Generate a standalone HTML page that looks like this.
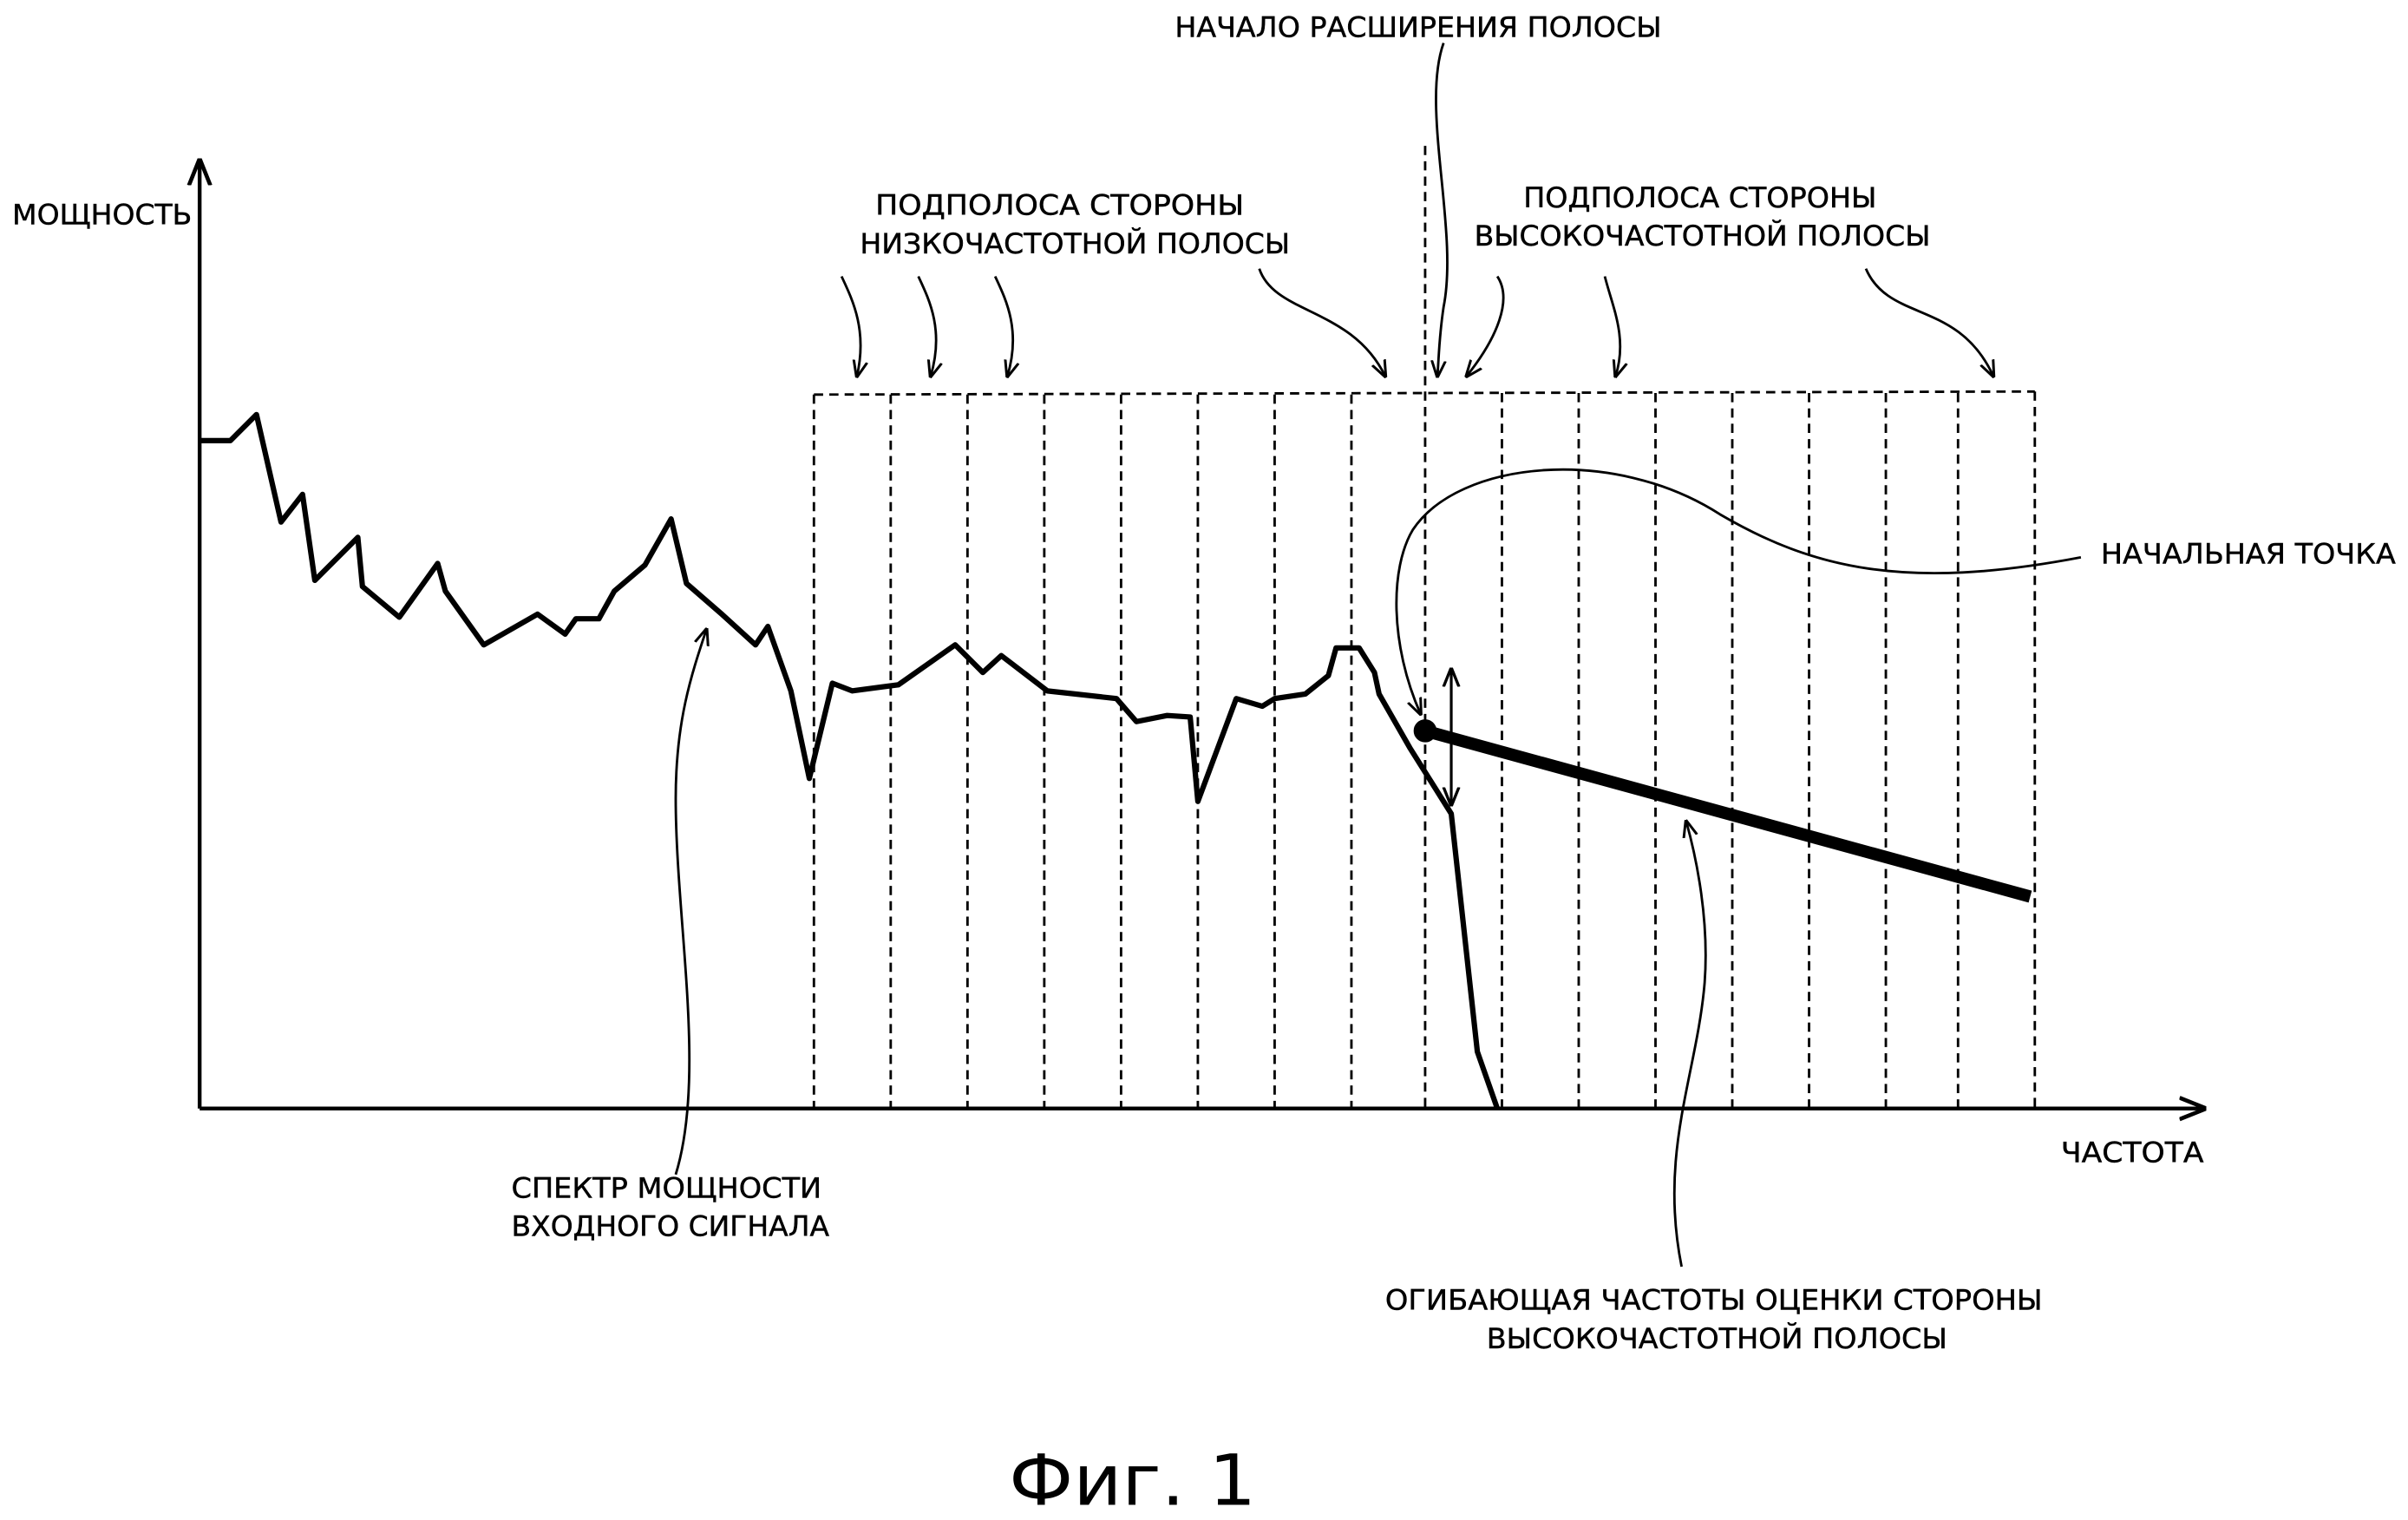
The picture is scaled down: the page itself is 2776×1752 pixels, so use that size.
<!DOCTYPE html>
<html><head><meta charset="utf-8"><style>
html,body{margin:0;padding:0;background:#fff;}
svg{display:block;}
text{font-family:"DejaVu Sans","Liberation Sans",sans-serif;font-size:18px;fill:#000;stroke:#000;stroke-width:0.25;}
</style></head><body>
<svg width="2776" height="1752" viewBox="0 0 1568 990" preserveAspectRatio="none" xmlns="http://www.w3.org/2000/svg">
<defs>
<marker id="ah" viewBox="0 0 10 10" refX="9" refY="5" markerWidth="7" markerHeight="7" orient="auto-start-reverse"><path d="M0,1 L10,5 L0,9" fill="none" stroke="#000" stroke-width="1.5"/></marker>
</defs>
<g stroke="#000" fill="none">
<line x1="130" y1="722" x2="130" y2="105" stroke-width="2.5" marker-end="url(#ah)"/>
<line x1="130" y1="722" x2="1435" y2="722" stroke-width="2.5" marker-end="url(#ah)"/>
<g stroke-width="1.6" stroke-dasharray="6,4">
<line x1="530" y1="257" x2="1325" y2="255"/>
<line x1="530" y1="257" x2="530" y2="722"/>
<line x1="580" y1="257" x2="580" y2="722"/>
<line x1="630" y1="257" x2="630" y2="722"/>
<line x1="680" y1="257" x2="680" y2="722"/>
<line x1="730" y1="257" x2="730" y2="722"/>
<line x1="780" y1="257" x2="780" y2="722"/>
<line x1="830" y1="257" x2="830" y2="722"/>
<line x1="880" y1="257" x2="880" y2="722"/>
<line x1="928" y1="95" x2="928" y2="722"/>
<line x1="978" y1="256" x2="978" y2="722"/>
<line x1="1028" y1="256" x2="1028" y2="722"/>
<line x1="1078" y1="256" x2="1078" y2="722"/>
<line x1="1128" y1="256" x2="1128" y2="722"/>
<line x1="1178" y1="256" x2="1178" y2="722"/>
<line x1="1228" y1="256" x2="1228" y2="722"/>
<line x1="1275" y1="256" x2="1275" y2="722"/>
<line x1="1325" y1="255" x2="1325" y2="722"/>
</g>
<polyline stroke-width="3.5" stroke-linejoin="round" points="130,287 150,287 167,270 183,340 197,322 205,378 233,350 236,382 260,402 285,367 290,385 315,420 350,400 368,413 375,403 390,403 400,385 420,368 437,338 447,380 470,400 492,420 500,408 515,450 527,507 542,445 555,450 585,446 622,420 640,438 652,427 682,450 727,455 740,470 760,466 775,467 780,522 805,455 822,460 830,455 850,452 865,440 870,422 885,422 895,438 898,452 918,487 945,530 962,685 975,722"/>
<line x1="928" y1="476" x2="1322" y2="584" stroke-width="8"/>
<circle cx="928" cy="476" r="7" fill="#000"/>
<line x1="945" y1="436" x2="945" y2="524" stroke-width="1.8" marker-start="url(#ah)" marker-end="url(#ah)"/>
<g stroke-width="1.6">
<path d="M548,180 C555,195 565,215 558,245" marker-end="url(#ah)"/>
<path d="M598,180 C605,195 615,215 606,245" marker-end="url(#ah)"/>
<path d="M648,180 C655,195 665,215 656,245" marker-end="url(#ah)"/>
<path d="M820,175 C830,205 880,200 902,245" marker-end="url(#ah)"/>
<path d="M940,28 C925,70 950,150 940,200 C937,220 937,232 936,245" marker-end="url(#ah)"/>
<path d="M975,180 C985,195 975,220 955,245" marker-end="url(#ah)"/>
<path d="M1045,180 C1050,200 1060,220 1052,245" marker-end="url(#ah)"/>
<path d="M1215,175 C1230,210 1275,195 1298,245" marker-end="url(#ah)"/>
<path d="M1355,363 C1240,385 1180,370 1120,335 C1050,290 950,300 920,345 C905,370 905,420 925,465" marker-end="url(#ah)"/>
<path d="M440,765 C460,700 440,600 440,520 C440,470 450,440 460,410" marker-end="url(#ah)"/>
<path d="M1095,825 C1080,750 1105,700 1110,640 C1113,600 1105,560 1098,535" marker-end="url(#ah)"/>
</g>
</g>
<text x="8" y="146" textLength="117" lengthAdjust="spacingAndGlyphs">МОЩНОСТЬ</text>
<text x="1342" y="757" textLength="93" lengthAdjust="spacingAndGlyphs">ЧАСТОТА</text>
<text x="765" y="24" textLength="317" lengthAdjust="spacingAndGlyphs">НАЧАЛО РАСШИРЕНИЯ ПОЛОСЫ</text>
<text x="570" y="140" textLength="240" lengthAdjust="spacingAndGlyphs">ПОДПОЛОСА СТОРОНЫ</text>
<text x="560" y="165" textLength="280" lengthAdjust="spacingAndGlyphs">НИЗКОЧАСТОТНОЙ ПОЛОСЫ</text>
<text x="992" y="135" textLength="230" lengthAdjust="spacingAndGlyphs">ПОДПОЛОСА СТОРОНЫ</text>
<text x="960" y="160" textLength="297" lengthAdjust="spacingAndGlyphs">ВЫСОКОЧАСТОТНОЙ ПОЛОСЫ</text>
<text x="1368" y="367" textLength="192" lengthAdjust="spacingAndGlyphs">НАЧАЛЬНАЯ ТОЧКА</text>
<text x="333" y="780" textLength="202" lengthAdjust="spacingAndGlyphs">СПЕКТР МОЩНОСТИ</text>
<text x="333" y="805" textLength="207" lengthAdjust="spacingAndGlyphs">ВХОДНОГО СИГНАЛА</text>
<text x="902" y="853" textLength="428" lengthAdjust="spacingAndGlyphs">ОГИБАЮЩАЯ ЧАСТОТЫ ОЦЕНКИ СТОРОНЫ</text>
<text x="968" y="878" textLength="300" lengthAdjust="spacingAndGlyphs">ВЫСОКОЧАСТОТНОЙ ПОЛОСЫ</text>
<text x="657" y="980" style="font-size:46px;stroke-width:0" textLength="161" lengthAdjust="spacingAndGlyphs">Фиг. 1</text>
</svg>
</body></html>
